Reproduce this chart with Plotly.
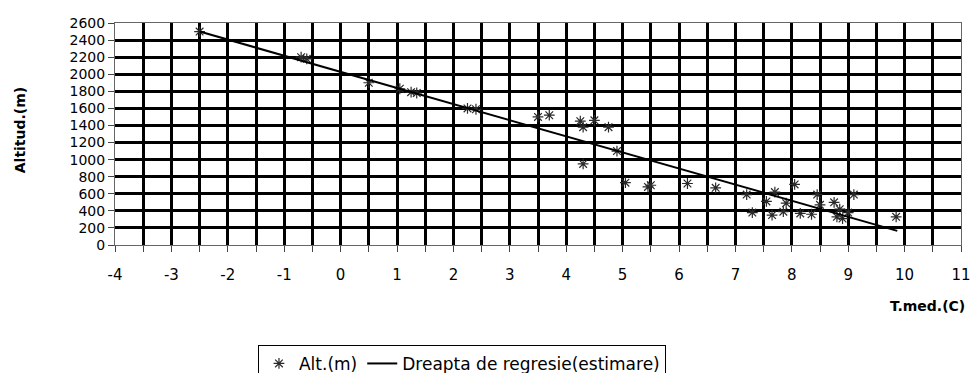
import plotly.graph_objects as go

# Mean annual temperature (°C) and altitude (m) of the stations
temp = [-2.5, -0.7, -0.6, 0.5, 1.05, 1.25, 1.35, 2.25, 2.4, 3.5, 3.7,
        4.25, 4.3, 4.5, 4.75, 4.9, 4.3, 5.05, 5.45, 5.5, 6.15, 6.65,
        7.2, 7.3, 7.55, 7.65, 7.7, 7.85, 7.9, 8.05, 8.15, 8.35, 8.45,
        8.5, 8.75, 8.8, 8.85, 8.9, 9.0, 9.1, 9.85]
alt = [2500, 2200, 2180, 1900, 1830, 1790, 1780, 1600, 1590, 1500, 1520,
       1450, 1380, 1460, 1380, 1100, 950, 730, 680, 700, 720, 670,
       590, 380, 510, 350, 620, 390, 490, 710, 370, 360, 590,
       470, 500, 330, 420, 310, 380, 590, 330]

# Estimated regression line (end points)
reg_temp = [-2.5, 9.87]
reg_alt = [2500, 165]

x_ticks = list(range(-4, 12))
y_ticks = list(range(0, 2601, 200))

FONT = "DejaVu Sans, Liberation Sans, Arial, sans-serif"

fig = go.Figure()
fig.add_trace(go.Scatter(
    x=temp, y=alt, mode="markers", name="Alt.(m)",
    marker=dict(symbol="asterisk-open", size=9, color="#2a2a2a",
                line=dict(width=1.2, color="#2a2a2a")),
))
fig.add_trace(go.Scatter(
    x=reg_temp, y=reg_alt, mode="lines", name="Dreapta de regresie(estimare)",
    line=dict(color="black", width=2),
))

fig.update_layout(
    width=971, height=373,
    margin=dict(l=115, r=10, t=23, b=128, autoexpand=False),
    paper_bgcolor="white", plot_bgcolor="white",
    font=dict(family=FONT, size=16, color="black"),
    showlegend=True,
    legend=dict(orientation="h", x=0.169, xanchor="left", y=-0.45, yanchor="top",
                bordercolor="black", borderwidth=1, bgcolor="white",
                font=dict(size=17), itemwidth=30, tracegroupgap=0),
)
fig.update_xaxes(
    range=[-4, 11], tickvals=x_ticks, ticktext=[str(v) for v in x_ticks],
    showgrid=True, gridcolor="black", gridwidth=3,
    minor=dict(dtick=0.5, showgrid=True, gridcolor="black", gridwidth=3,
               ticks="outside", ticklen=6, tickcolor="#444"),
    ticks="outside", ticklen=6, tickcolor="#444",
    showline=True, linecolor="#666", linewidth=1, mirror=True,
    zeroline=False, tickfont=dict(size=15), ticklabelstandoff=10,
)
fig.update_yaxes(
    range=[0, 2600], tickvals=y_ticks, ticktext=[str(v) for v in y_ticks],
    showgrid=True, gridcolor="black", gridwidth=3,
    ticks="outside", ticklen=6, tickcolor="#444",
    showline=True, linecolor="#666", linewidth=1, mirror=True,
    zeroline=False, tickfont=dict(size=14),
)

fig.add_annotation(text="<b>Altitud.(m)</b>", xref="paper", yref="paper",
                   x=-0.112, y=0.518, xanchor="center", yanchor="middle",
                   textangle=-90, showarrow=False,
                   font=dict(size=14, family=FONT))
fig.add_annotation(text="<b>T.med.(C)</b>", xref="paper", yref="paper",
                   x=0.96, y=-0.275, xanchor="center", yanchor="middle",
                   showarrow=False, font=dict(size=14, family=FONT))

fig.write_html("out.html")
